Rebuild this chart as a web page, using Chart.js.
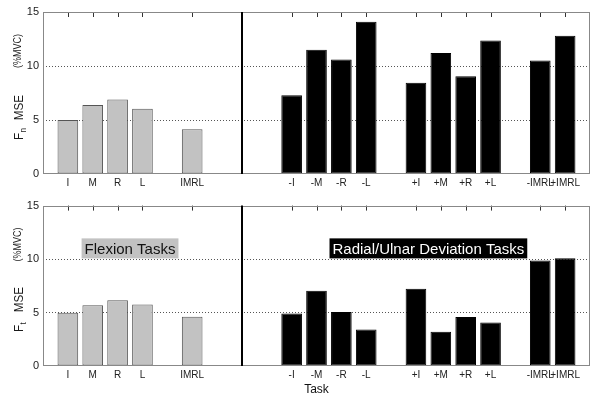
<!DOCTYPE html>
<html><head><meta charset="utf-8">
<script src="https://cdn.jsdelivr.net/npm/chart.js@4"></script>
<style>
html,body{margin:0;padding:0;background:#fff;}
#wrap{position:relative;width:600px;height:401px;overflow:hidden;}
canvas{position:absolute;left:0;}
</style>
</head><body>
<div id="wrap">
<canvas id="c1" width="600" height="195" style="top:0"></canvas>
<canvas id="c2" width="600" height="206" style="top:195px"></canvas>
</div>
<script>
// ---- data ----
const categories = ['', 'I','M','R','L','','IMRL','','','','-I','-M','-R','-L','','+I','+M','+R','+L','','-IMRL','+IMRL',''];
const fnMSE = [null,5.0,6.4,6.9,6.05,null,4.15,null,null,null,7.3,11.5,10.6,14.1,null,8.45,11.2,9.05,12.35,null,10.5,12.8,null];
const ftMSE = [null,4.97,5.68,6.15,5.74,null,4.6,null,null,null,4.9,7.03,5.04,3.41,null,7.22,3.2,4.58,4.06,null,9.86,10.07,null];
const yTicks = [0,5,10,15];
const dividerIndex = 8;
const flexionLabel = 'Flexion Tasks';
const deviationLabel = 'Radial/Ulnar Deviation Tasks';
const unitLabel = '(%MVC)';
const xTitle = 'Task';

const FAMILY = '"Liberation Sans", Arial, Helvetica, sans-serif';
Chart.defaults.font.family = FAMILY;

const decor = {
  id: 'decor',
  afterDraw(chart, args, o) {
    const {ctx, chartArea: a, scales: {x, y}} = chart;
    ctx.save();
    // annotation boxes
    if (o.boxes) {
      o.boxes.forEach(b => {
        ctx.font = '15px ' + FAMILY;
        const w = ctx.measureText(b.text).width;
        const cx = x.getPixelForValue(b.x);
        const cy = y.getPixelForValue(b.y);
        ctx.fillStyle = b.bg;
        ctx.fillRect(cx - w / 2 - 3, cy - 10, w + 6, 20);
        ctx.fillStyle = b.fg;
        ctx.textAlign = 'center';
        ctx.textBaseline = 'middle';
        ctx.fillText(b.text, cx, cy + 1);
      });
    }
    // top tick marks
    ctx.strokeStyle = '#333';
    ctx.lineWidth = 1;
    categories.forEach((c, i) => {
      if (!c) return;
      const px = Math.round(x.getPixelForValue(i)) + 0.5;
      ctx.beginPath(); ctx.moveTo(px, a.top); ctx.lineTo(px, a.top + 5); ctx.stroke();
    });
    // frame
    ctx.strokeStyle = '#888';
    ctx.strokeRect(Math.round(a.left) + 0.5, Math.round(a.top) + 0.5, Math.round(a.right - a.left) - 1, Math.round(a.bottom - a.top) - 1);
    // divider
    const dx = Math.round(x.getPixelForValue(dividerIndex));
    ctx.strokeStyle = '#000';
    ctx.lineWidth = 2;
    ctx.beginPath(); ctx.moveTo(dx, a.top); ctx.lineTo(dx, a.bottom); ctx.stroke();
    // y title
    ctx.fillStyle = '#1a1a1a';
    ctx.textAlign = 'left';
    ctx.textBaseline = 'alphabetic';
    ctx.save();
    ctx.translate(23, a.bottom - 34);
    ctx.rotate(-Math.PI / 2);
    ctx.scale(0.9, 1);
    ctx.font = '13px ' + FAMILY;
    ctx.fillText('F', 0, 0);
    const fw = ctx.measureText('F').width;
    ctx.font = '9px ' + FAMILY;
    ctx.fillText(o.sub, fw + 0.5, 3);
    ctx.font = '13px ' + FAMILY;
    ctx.fillText('MSE', 22, 0);
    ctx.restore();
    ctx.save();
    ctx.translate(21, a.top + 56);
    ctx.rotate(-Math.PI / 2);
    ctx.scale(0.9, 1);
    ctx.font = '10px ' + FAMILY;
    ctx.fillText(unitLabel, 0, 0);
    ctx.restore();
    ctx.restore();
  }
};

function makeChart(id, values, cfg) {
  return new Chart(document.getElementById(id), {
    type: 'bar',
    data: {
      labels: categories,
      datasets: [{
        data: values,
        backgroundColor: c => c.dataIndex < dividerIndex ? '#c2c2c2' : '#000',
        borderColor: c => c.dataIndex < dividerIndex ? '#555' : '#000',
        borderWidth: 1,
        borderSkipped: false,
        categoryPercentage: 1,
        barPercentage: 0.83
      }]
    },
    options: {
      responsive: false,
      devicePixelRatio: 1,
      animation: false,
      events: [],
      layout: {padding: {top: cfg.padTop, right: 10, left: 0, bottom: 0}},
      scales: {
        x: {
          type: 'category',
          offset: false,
          grid: {display: false, drawTicks: false},
          border: {display: false},
          ticks: {autoSkip: false, maxRotation: 0, minRotation: 0, padding: 3, font: {size: 10}, color: '#222'},
          title: cfg.title ? {display: true, text: cfg.title, font: {size: 12}, color: '#111', padding: {top: 0, bottom: 4}} : {display: false},
          afterFit(s) { s.height = cfg.xHeight; }
        },
        y: {
          min: 0, max: 15,
          afterBuildTicks(s) { s.ticks = yTicks.map(v => ({value: v})); },
          ticks: {padding: 4, font: {size: 11}, color: '#222'},
          grid: {drawTicks: false, lineWidth: 1, color: c => (c.tick && (c.tick.value === 5 || c.tick.value === 10)) ? '#555' : 'rgba(0,0,0,0)'},
          border: {display: false, dash: [1, 2]},
          afterFit(s) { s.width = 43; }
        }
      },
      plugins: {
        legend: {display: false},
        tooltip: {enabled: false},
        decor: {sub: cfg.sub, boxes: cfg.boxes}
      }
    },
    plugins: [decor]
  });
}

makeChart('c1', fnMSE, {padTop: 12, xHeight: 21, sub: 'n'});
makeChart('c2', ftMSE, {padTop: 8, xHeight: 35, sub: 't', title: xTitle,
  boxes: [
    {text: flexionLabel, x: 3.5, y: 11, bg: '#c2c2c2', fg: '#111'},
    {text: deviationLabel, x: 15.5, y: 11, bg: '#000', fg: '#fff'}
  ]});
</script>
</body></html>
